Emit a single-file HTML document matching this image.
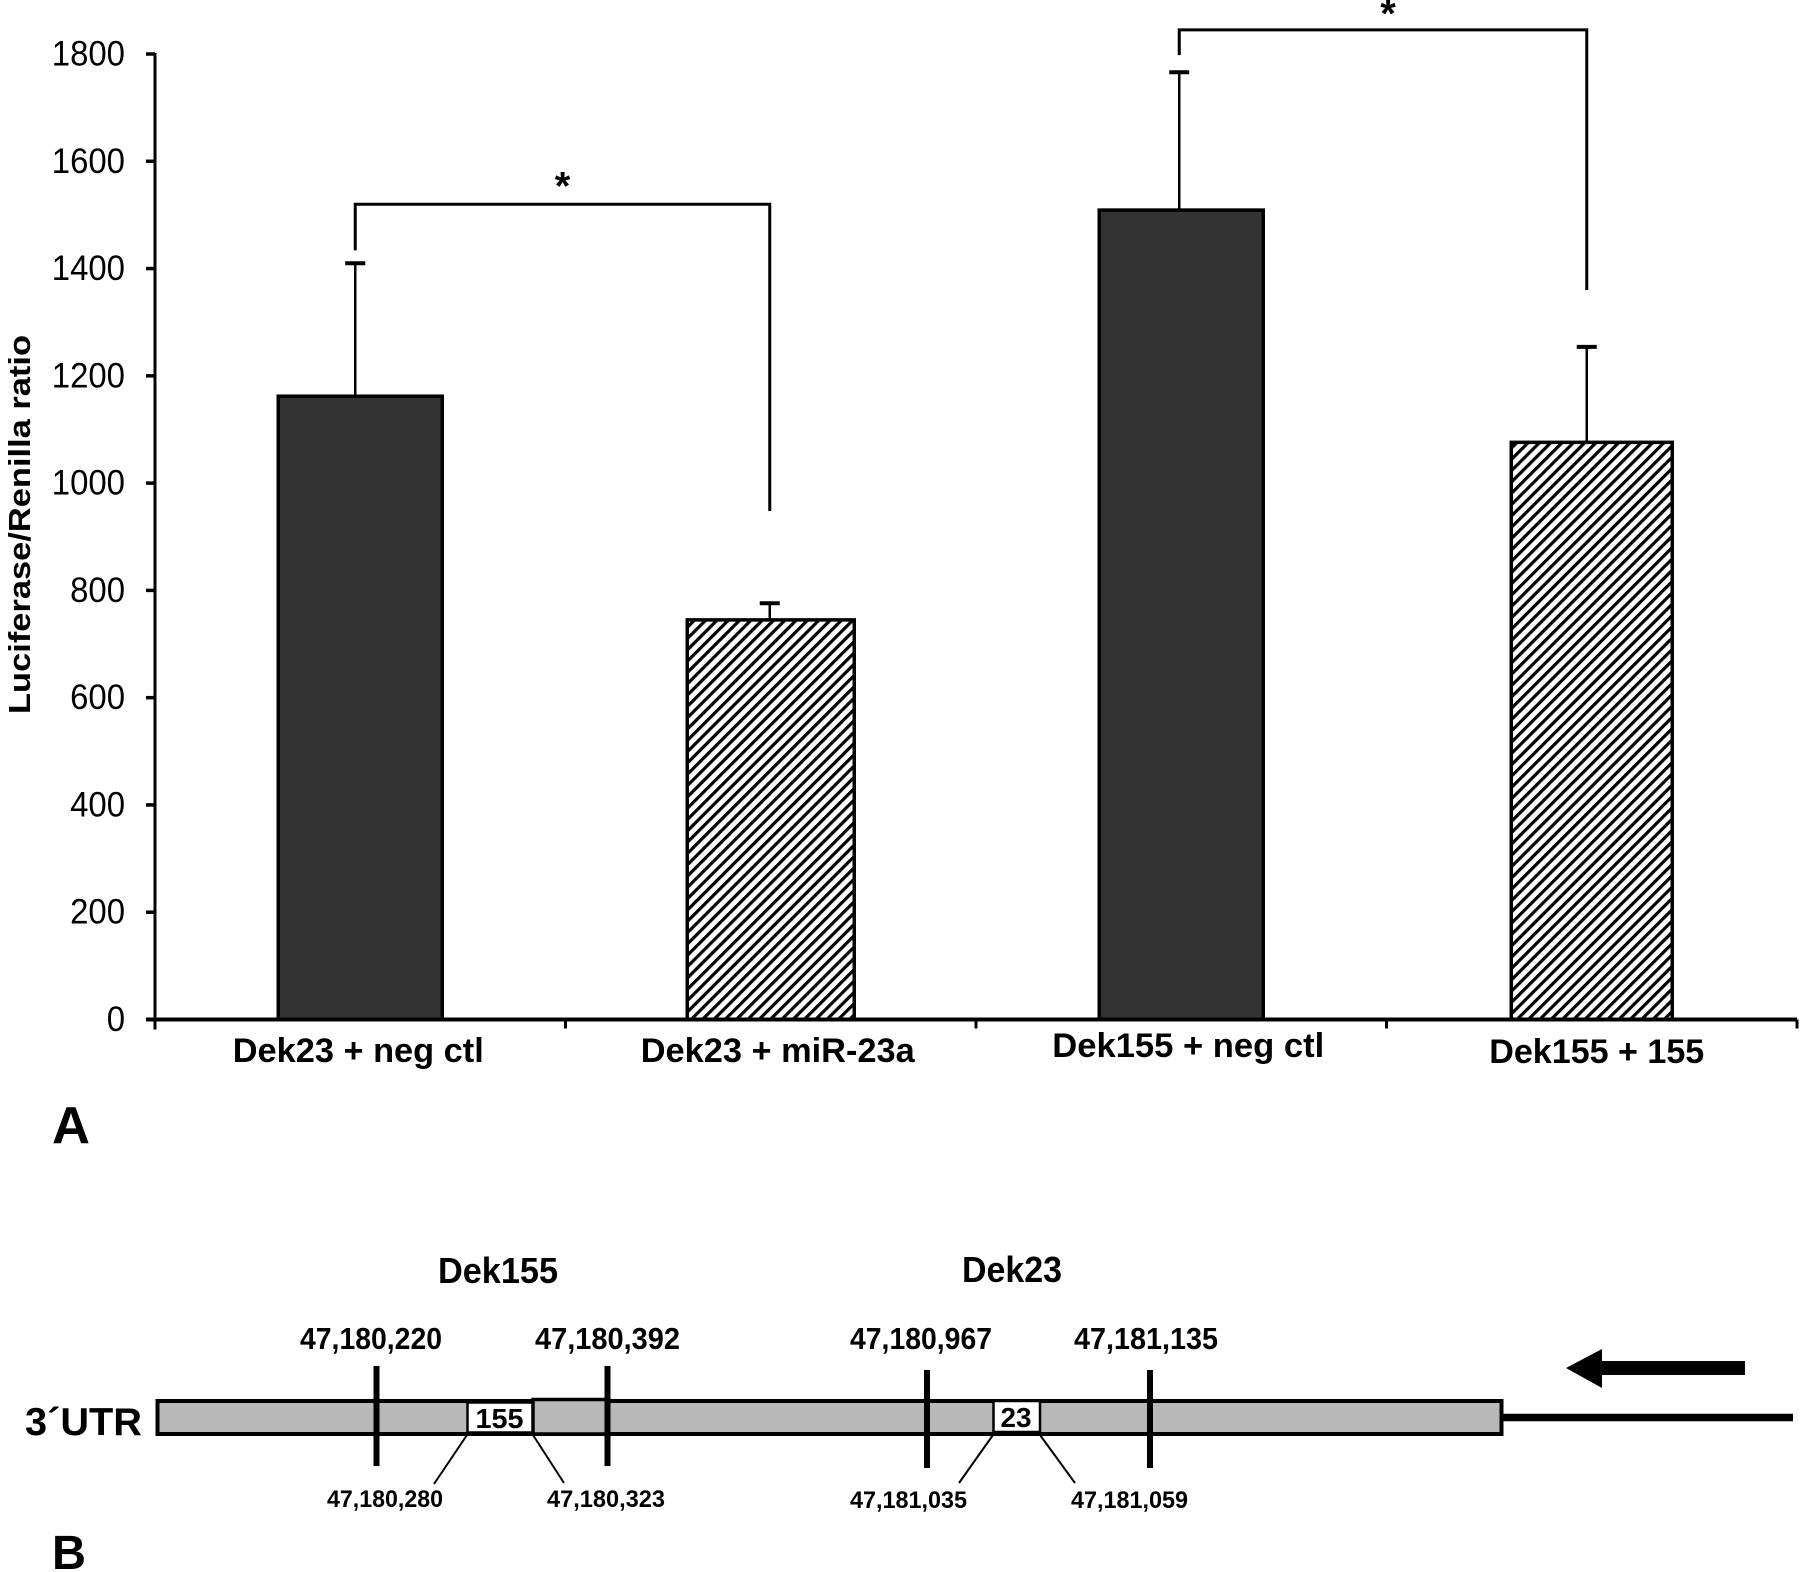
<!DOCTYPE html>
<html>
<head>
<meta charset="utf-8">
<title>Luciferase/Renilla ratio chart and Dek 3'UTR schematic</title>
<style>
html,body{margin:0;padding:0;background:#fff;}
svg{display:block;}
text{font-family:"Liberation Sans",Arial,sans-serif;fill:#000;}
.b{font-weight:bold;}
</style>
</head>
<body>
<svg id="fig" xmlns="http://www.w3.org/2000/svg" width="1800" height="1572" viewBox="0 0 1800 1572">
  <defs>
    <pattern id="hatch" patternUnits="userSpaceOnUse" width="8" height="8" patternTransform="rotate(45)">
      <rect width="8" height="8" fill="#fff"/>
      <rect width="3.2" height="8" fill="#000"/>
    </pattern>
  </defs>
  <rect width="1800" height="1572" fill="#fff"/>
  <g id="chart"></g>

  <text class="b" x="52" y="1143" font-size="52" textLength="38" lengthAdjust="spacingAndGlyphs">A</text>

  <g>
    <line x1="1500" y1="1417.5" x2="1793" y2="1417.5" stroke="#000" stroke-width="7.5"/>
    <rect x="157.5" y="1401" width="1344" height="33" fill="#b8b8b8" stroke="#000" stroke-width="4"/>
    <rect x="533" y="1399.5" width="74" height="34.5" fill="#b8b8b8" stroke="#000" stroke-width="3.5"/>
    <rect x="467.5" y="1402.5" width="65" height="30" fill="#fff" stroke="#000" stroke-width="2.5"/>
    <rect x="993.5" y="1401" width="46.5" height="31" fill="#fff" stroke="#000" stroke-width="2.5"/>
    <text class="b" x="499.5" y="1428" font-size="28" text-anchor="middle" textLength="48" lengthAdjust="spacingAndGlyphs">155</text>
    <text class="b" x="1016" y="1427" font-size="28" text-anchor="middle" textLength="31" lengthAdjust="spacingAndGlyphs">23</text>

    <line x1="376.5" y1="1366" x2="376.5" y2="1466" stroke="#000" stroke-width="6"/>
    <line x1="607.5" y1="1366" x2="607.5" y2="1466" stroke="#000" stroke-width="6"/>
    <line x1="927" y1="1370" x2="927" y2="1468" stroke="#000" stroke-width="6"/>
    <line x1="1150" y1="1370" x2="1150" y2="1468" stroke="#000" stroke-width="6"/>

    <line x1="467" y1="1435" x2="434" y2="1484" stroke="#000" stroke-width="2"/>
    <line x1="533" y1="1435" x2="564" y2="1483" stroke="#000" stroke-width="2"/>
    <line x1="993" y1="1435" x2="959" y2="1483" stroke="#000" stroke-width="2"/>
    <line x1="1040" y1="1435" x2="1075" y2="1483" stroke="#000" stroke-width="2"/>

    <polygon points="1566,1368 1602,1349 1602,1361 1745,1361 1745,1375 1602,1375 1602,1388" fill="#000"/>

    <text class="b" x="25" y="1435" font-size="39" textLength="117" lengthAdjust="spacingAndGlyphs">3´UTR</text>
    <text class="b" x="438" y="1283" font-size="36" textLength="120" lengthAdjust="spacingAndGlyphs">Dek155</text>
    <text class="b" x="962" y="1282" font-size="36" textLength="100" lengthAdjust="spacingAndGlyphs">Dek23</text>

    <text class="b" x="300" y="1349" font-size="31" textLength="142" lengthAdjust="spacingAndGlyphs">47,180,220</text>
    <text class="b" x="535" y="1349" font-size="31" textLength="145" lengthAdjust="spacingAndGlyphs">47,180,392</text>
    <text class="b" x="850" y="1349" font-size="31" textLength="142" lengthAdjust="spacingAndGlyphs">47,180,967</text>
    <text class="b" x="1074" y="1349" font-size="31" textLength="144" lengthAdjust="spacingAndGlyphs">47,181,135</text>

    <text class="b" x="327" y="1507" font-size="24" textLength="116" lengthAdjust="spacingAndGlyphs">47,180,280</text>
    <text class="b" x="547" y="1507" font-size="24" textLength="118" lengthAdjust="spacingAndGlyphs">47,180,323</text>
    <text class="b" x="850" y="1508" font-size="24" textLength="117" lengthAdjust="spacingAndGlyphs">47,181,035</text>
    <text class="b" x="1071" y="1508" font-size="24" textLength="117" lengthAdjust="spacingAndGlyphs">47,181,059</text>
  </g>

  <text class="b" x="52" y="1569" font-size="48" textLength="34" lengthAdjust="spacingAndGlyphs">B</text>
</svg>

<script>
// Chart data
const categories = ["Dek23 + neg ctl", "Dek23 + miR-23a", "Dek155 + neg ctl", "Dek155 + 155"];
const means = [1162, 745, 1509, 1076];
const errors = [248, 31, 257, 178];
const yTicks = [0, 200, 400, 600, 800, 1000, 1200, 1400, 1600, 1800];
const barFills = ["#333333", "url(#hatch)", "#333333", "url(#hatch)"];
// Significance brackets: category indexes and levels in axis units
const bracketFrom = [0, 2];
const bracketTo = [1, 3];
const bracketTop = [1520, 1845];
const bracketLeftEnd = [1434, 1798];
const bracketRightEnd = [948, 1360];

const NS = "http://www.w3.org/2000/svg";
const root = document.getElementById("chart");
const AXIS_X = 155, BASE_Y = 1019.5, TOP_Y = 54, BAND = 410.5, BAR_W = 164;

function yPos(v) { return BASE_Y - v * (BASE_Y - TOP_Y) / 1800; }
function xBand(i) { return AXIS_X + BAND * i; }
function xCenter(i) { return xBand(i) + BAND / 2; }
// Small hand-placement quirks of the original figure, per category
function stemX(i) { return xCenter(i) + [-5, -1, -2, -5][i]; }
function barWidth(i) { return BAR_W + [0, 3, 0, -3][i]; }
function labelX(i) { return xCenter(i) + [-2, 7, 7, 5][i]; }
function labelY(i) { return [1062, 1062, 1057, 1063][i]; }
function labelWidth(i) { return [251, 274, 272, 215][i]; }

function make(tag, attrs, text) {
  const el = document.createElementNS(NS, tag);
  for (const k in attrs) el.setAttribute(k, attrs[k]);
  if (text !== undefined) el.textContent = text;
  root.appendChild(el);
  return el;
}

// Bars, error bars
categories.forEach(function (cat, i) {
  const cx = xCenter(i);
  const sx = stemX(i);
  const top = yPos(means[i]);
  const errTop = yPos(means[i] + errors[i]);
  const w = barWidth(i);

  const stem = make("line", {x1: sx, y1: top, x2: sx, y2: errTop, stroke: "#000", "stroke-width": 2.5});
  
  

  const cap = make("line", {x1: sx - 10, y1: errTop, x2: sx + 10, y2: errTop, stroke: "#000", "stroke-width": 4});
  
  

  const bar = make("rect", {x: cx - w / 2, y: top, width: w, height: BASE_Y - top, fill: barFills[i], stroke: "#000", "stroke-width": 3.5});
  
  

  const label = make("text", {x: labelX(i), y: labelY(i), "font-size": 34, "font-weight": "bold", "text-anchor": "middle", textLength: labelWidth(i), lengthAdjust: "spacingAndGlyphs"}, cat);
  
  
});

// Axes
const yAxis = make("line", {x1: AXIS_X, y1: yPos(1800) - 1, x2: AXIS_X, y2: BASE_Y + 10, stroke: "#000", "stroke-width": 3});



const xAxis = make("line", {x1: AXIS_X - 9, y1: BASE_Y, x2: 1797, y2: BASE_Y, stroke: "#000", "stroke-width": 4});



yTicks.forEach(function (t) {
  const y = yPos(t);
  const tick = make("line", {x1: AXIS_X - 9, y1: y, x2: AXIS_X, y2: y, stroke: "#000", "stroke-width": 3.5});
  
  

  const s = String(t);
  const lab = make("text", {x: 125, y: y + 11.5, "font-size": 35, "text-anchor": "end", textLength: s.length * 18.3, lengthAdjust: "spacingAndGlyphs"}, s);
  
  
});

categories.forEach(function (cat, i) {
  const x = xBand(i + 1);
  const tick = make("line", {x1: x, y1: BASE_Y, x2: x, y2: BASE_Y + 9, stroke: "#000", "stroke-width": 3});
  
  
});

const yTitle = make("text", {transform: "translate(30,524.5) rotate(-90)", "font-size": 31, "font-weight": "bold", "text-anchor": "middle", textLength: 379, lengthAdjust: "spacingAndGlyphs"}, "Luciferase/Renilla ratio");



// Significance brackets
bracketFrom.forEach(function (from, i) {
  const x1 = stemX(from);
  const x2 = stemX(bracketTo[i]);
  const d = "M" + x1 + " " + yPos(bracketLeftEnd[i]) + "V" + yPos(bracketTop[i]) + "H" + x2 + "V" + yPos(bracketRightEnd[i]);
  const path = make("path", {d: d, fill: "none", stroke: "#000", "stroke-width": 3});
  
  

  const star = make("text", {x: (x1 + x2) / 2 + (i === 1 ? 5 : 0), y: yPos(bracketTop[i]) - (i === 1 ? 3 : 4.5), "font-size": 40, "font-weight": "bold", "text-anchor": "middle"}, "*");
  
  
});
</script>
</body>
</html>
